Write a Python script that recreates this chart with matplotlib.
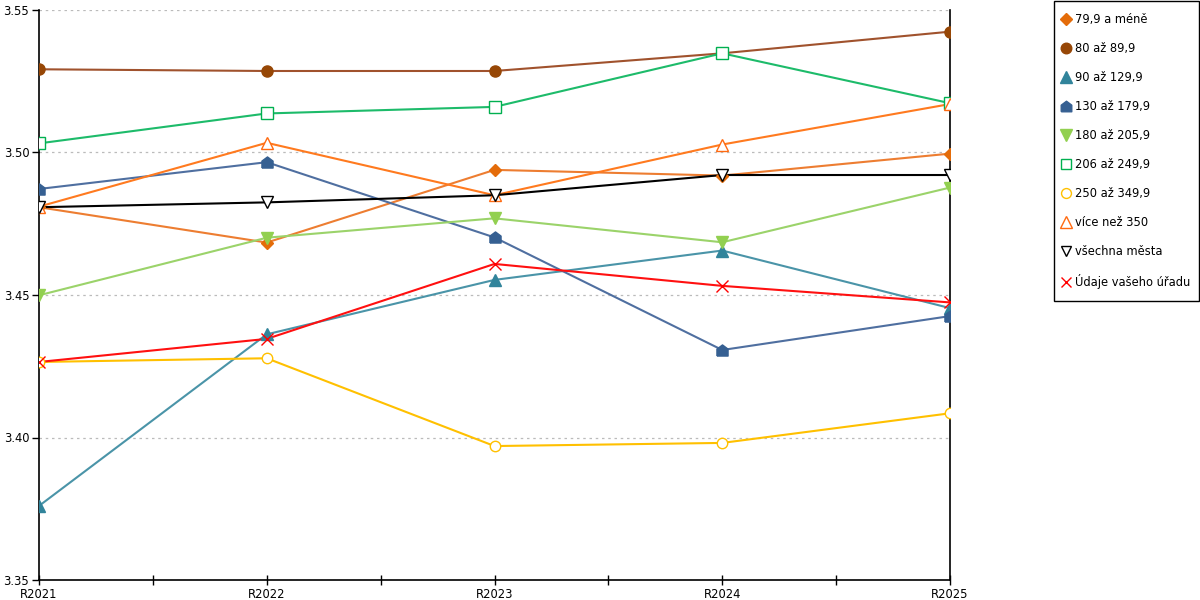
import numpy as np
import matplotlib
matplotlib.use("Agg")
import matplotlib.pyplot as plt
from matplotlib.lines import Line2D
from matplotlib.patches import Rectangle
from matplotlib.ticker import MultipleLocator

plt.rcParams['font.family'] = ['DejaVu Sans']
plt.rcParams['font.size'] = 8

years = ["R2021", "R2022", "R2023", "R2024", "R2025"]

labels = ["79,9 a méně", "80 až 89,9", "90 až 129,9", "130 až 179,9", "180 až 205,9",
          "206 až 249,9", "250 až 349,9", "více než 350", "všechna města", "Údaje vašeho úřadu"]

s_79 = [3.4808, 3.4684, 3.4939, 3.4919, 3.4996]
s_80 = [3.5292, 3.5286, 3.5286, 3.5348, 3.5424]
s_90 = [3.3760, 3.4362, 3.4553, 3.4656, 3.4454]
s_130 = [3.4872, 3.4966, 3.4702, 3.4307, 3.4426]
s_180 = [3.4499, 3.4701, 3.4769, 3.4685, 3.4877]
s_206 = [3.5032, 3.5137, 3.5160, 3.5348, 3.5173]
s_250 = [3.4265, 3.4278, 3.3970, 3.3981, 3.4085]
s_350 = [3.4810, 3.5034, 3.4850, 3.5028, 3.5170]
s_all = [3.4808, 3.4825, 3.4850, 3.4921, 3.4921]
s_own = [3.4265, 3.4346, 3.4609, 3.4532, 3.4474]

series = [s_79, s_80, s_90, s_130, s_180, s_206, s_250, s_350, s_all, s_own]

# house-shaped marker for 130-179,9
house = [(-1, -1), (1, -1), (1, 0.25), (0, 1), (-1, 0.25), (-1, -1)]

# (line colour, marker colour, marker, filled, size)
styles = [
    ("#ED7D31", "#E46C0A", "D", True, 6.5),
    ("#A0522D", "#974706", "o", True, 8),
    ("#4A94A8", "#31849B", "^", True, 8.5),
    ("#4F6FA0", "#366092", house, True, 8),
    ("#9BD36A", "#92D050", "v", True, 8.5),
    ("#1DBB6A", "#00B050", "s", False, 8),
    ("#FFC000", "#FFC000", "o", False, 7.5),
    ("#FF7A1F", "#FF6A10", "^", False, 8.5),
    ("#000000", "#000000", "v", False, 8),
    ("#FF1010", "#FF0000", "x", True, 8),
]

fig = plt.figure(figsize=(12, 6), dpi=100)
ax = fig.add_axes([39 / 1200, 20 / 600, 911 / 1200, 570 / 600])

x = np.arange(len(years))
handles = []
for vals, lab, (lc, mc, mk, filled, ms) in zip(series, labels, styles):
    ax.plot(x, vals, color=lc, lw=1.5, zorder=2)
    if filled:
        kw = dict(markerfacecolor=mc, markeredgecolor=mc)
    else:
        kw = dict(markerfacecolor="white", markeredgecolor=mc)
    ax.plot(x, vals, ls="none", marker=mk, markersize=ms, markeredgewidth=1.0, zorder=3, **kw)
    handles.append(Line2D([], [], ls="none", marker=mk, markersize=ms * 0.95,
                          markeredgewidth=1.0, label=lab, **kw))

ax.set_xlim(0, len(years) - 1)
ax.set_ylim(3.35, 3.55)
ax.set_xticks(x)
ax.set_xticklabels(years)
ax.xaxis.set_minor_locator(MultipleLocator(0.5))
ax.yaxis.set_major_locator(MultipleLocator(0.05))
ax.yaxis.set_major_formatter(plt.FuncFormatter(lambda v, p: "%.2f" % v))
ax.tick_params(axis="x", which="both", direction="inout", length=7, width=1, pad=2, labelsize=8.3)
ax.tick_params(axis="y", length=5, width=1, pad=2, labelsize=8.3)
ax.grid(axis="y", color="#BBBBBB", ls=(0, (2, 3)), lw=0.9, zorder=0)
for sp in ["left", "bottom", "right"]:
    ax.spines[sp].set_color("black")
    ax.spines[sp].set_linewidth(1.2)
ax.spines["top"].set_visible(False)

# legend box drawn by hand so that its size matches
fig.patches.append(Rectangle((1054 / 1200, 1 - 301 / 600), 145 / 1200, 300 / 600,
                             transform=fig.transFigure, fill=False, edgecolor="black", lw=1.0))
leg = fig.legend(handles=handles, loc="upper left", bbox_to_anchor=(1061 / 1200, 1 - 13.5 / 600),
                 frameon=False, labelspacing=1.38, handlelength=0.8, handletextpad=0.45,
                 borderpad=0, borderaxespad=0, fontsize=8.3)

fig.savefig("out.png", dpi=100)
